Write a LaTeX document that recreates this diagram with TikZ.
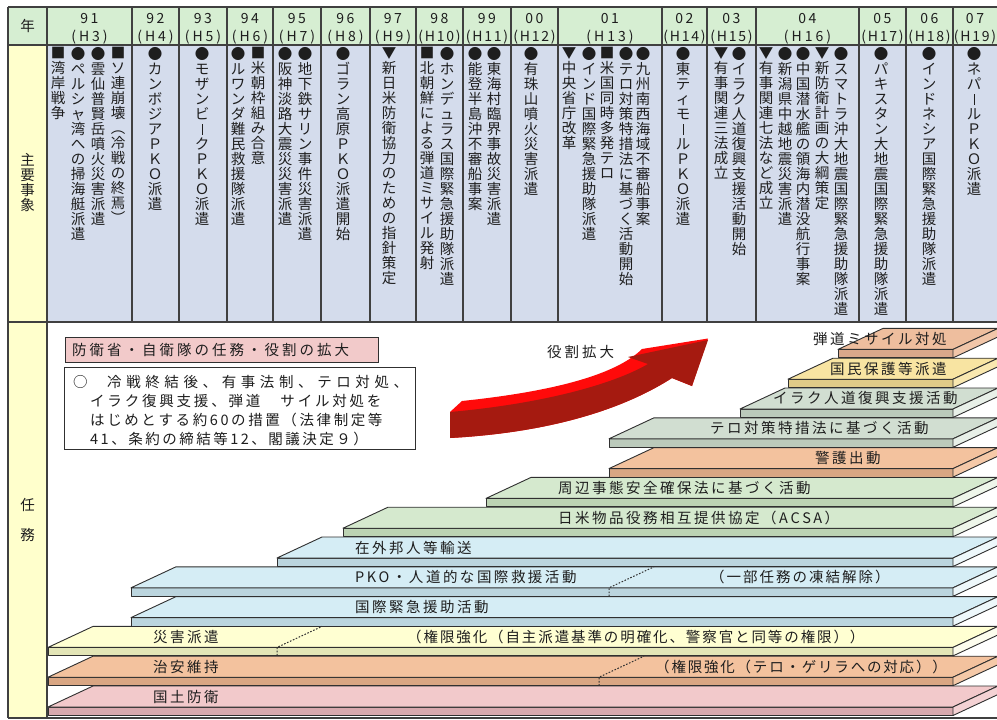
\documentclass[tikz,border=0pt]{standalone}
\usepackage{fontspec}
\setmainfont{Noto Sans CJK JP}
\makeatletter
\def\vt@end{\vt@end}
\def\vt@loop#1{\ifx#1\vt@end\else\hbox to 15pt{\hss#1\hss}\expandafter\vt@loop\fi}
\newcommand\vtxt[1]{\vtop{\baselineskip=15pt\lineskiplimit=-50pt\lineskip=0pt\vt@loop#1\vt@end}}
\newdimen\spk
\def\sp@first#1{#1\sp@loop}
\def\sp@loop#1{\ifx#1\vt@end\else\kern\spk#1\expandafter\sp@loop\fi}
\newcommand\sptxt[2][2.5pt]{\spk=#1\relax\sp@first#2\vt@end}
\makeatother
\newcommand\vbarmark{\raisebox{-0.5pt}{\rule{0.75pt}{10.5pt}}}
\definecolor{hdrg}{HTML}{D6EED2}
\definecolor{cellb}{HTML}{D4DCEC}
\definecolor{lefty}{HTML}{FFFFCC}
\definecolor{gridc}{HTML}{404040}
\definecolor{platc}{HTML}{303030}
\definecolor{txtc}{HTML}{1E1E1E}
\definecolor{pinkT}{HTML}{F2C9CB}\definecolor{pinkF}{HTML}{D8A9AE}\definecolor{pinkR}{HTML}{F4D2D4}
\definecolor{orT}{HTML}{F3C29E}\definecolor{orF}{HTML}{D9A683}\definecolor{orR}{HTML}{F5C9A8}
\definecolor{yelT}{HTML}{FFFFD2}\definecolor{yelF}{HTML}{E3E5B7}\definecolor{yelR}{HTML}{FDFDEE}
\definecolor{bluT}{HTML}{D5EDF5}\definecolor{bluF}{HTML}{BBD5DE}\definecolor{bluR}{HTML}{EEF8FB}
\definecolor{grnT}{HTML}{D5E9CE}\definecolor{grnF}{HTML}{BCD3B3}\definecolor{grnR}{HTML}{EEF6EA}
\definecolor{ggT}{HTML}{D1DED1}\definecolor{ggF}{HTML}{BBCABB}\definecolor{ggR}{HTML}{E8F0E8}
\definecolor{goldT}{HTML}{F8E4A2}\definecolor{goldF}{HTML}{E0CB88}\definecolor{goldR}{HTML}{F9E8B0}
\definecolor{salT}{HTML}{EEBE9E}\definecolor{salF}{HTML}{D9A88B}\definecolor{salR}{HTML}{F1C6A9}
\definecolor{titlepink}{HTML}{F2CACA}
\definecolor{arrdark}{HTML}{A51A10}
\definecolor{arrred}{HTML}{FF0A0A}
\newcommand\stairstep[5]{%
  \filldraw[plat, fill=#4] (#1,{#2+21}) rectangle (953,{#2+29.5});
  \filldraw[plat, fill=#3] (#1,{#2+21}) -- ({#1+45},#2) -- (998,#2) -- (953,{#2+21}) -- cycle;
  \filldraw[plat, fill=#5] (953,{#2+21}) -- (998,#2) -- (998,{#2+8.5}) -- (953,{#2+29.5}) -- cycle;
}
\begin{document}
\begin{tikzpicture}[x=1pt,y=-1pt,
  grid/.style={draw=gridc, line width=1.2pt},
  evt/.style={anchor=north, inner sep=0pt, text=txtc, font=\fontsize{14.5}{15}\selectfont},
  yr/.style={inner sep=0pt, text=txtc, font=\fontsize{14}{14}\selectfont},
  lbl/.style={inner sep=0pt, text=txtc, font=\fontsize{14.5}{15}\selectfont},
  plat/.style={draw=platc, line width=0.9pt, line join=round},
  ptxt/.style={anchor=west, inner sep=0pt, text=txtc, font=\fontsize{14.5}{15}\selectfont},
  divider/.style={draw=platc, dash pattern=on 1.6pt off 1.6pt, line width=1pt}]
\useasboundingbox (0,0) rectangle (997,720);
\clip (0,0) rectangle (997,720);
\fill[white] (0,0) rectangle (997,720);
% ---------- table backgrounds ----------
\fill[hdrg] (8,7) rectangle (1000,45);
\fill[cellb] (47,45) rectangle (1000,322);
\fill[lefty] (8,45) rectangle (47,718);
% ---------- grid ----------
\draw[grid] (8,7) -- (1000,7);
\draw[grid] (8,45) -- (1000,45);
\draw[grid] (8,322) -- (1000,322);
\draw[grid] (8,718) -- (1000,718);
\draw[grid] (8,7) -- (8,718);
\draw[grid] (47,7) -- (47,718);
\foreach \x in {132,179,227,273,321,370,416,463,511,558,662,707,756,859,906,953}
  \draw[grid] (\x,7) -- (\x,322);
% ---------- left labels ----------
\node[lbl] (nen) at (27.5,26) {年};
\node[lbl] (shuyo) at (27.5,183) {\vtxt{主要事象}};
\node[lbl] (nin) at (27.5,505) {任};
\node[lbl] (mu) at (27.5,535) {務};
% ---------- year header ----------
\node[yr] (y91) at (89.5,19) {\sptxt{91}};
\node[yr] (h91) at (89.5,37) {\sptxt[3pt]{(H3)}};
\node[yr] (y92) at (155.5,19) {\sptxt{92}};
\node[yr] (h92) at (155.5,37) {\sptxt[3pt]{(H4)}};
\node[yr] (y93) at (203,19) {\sptxt{93}};
\node[yr] (h93) at (203,37) {\sptxt[3pt]{(H5)}};
\node[yr] (y94) at (250,19) {\sptxt{94}};
\node[yr] (h94) at (250,37) {\sptxt[3pt]{(H6)}};
\node[yr] (y95) at (297,19) {\sptxt{95}};
\node[yr] (h95) at (297,37) {\sptxt[3pt]{(H7)}};
\node[yr] (y96) at (345.5,19) {\sptxt{96}};
\node[yr] (h96) at (345.5,37) {\sptxt[3pt]{(H8)}};
\node[yr] (y97) at (393,19) {\sptxt{97}};
\node[yr] (h97) at (393,37) {\sptxt[3pt]{(H9)}};
\node[yr] (y98) at (439.5,19) {\sptxt{98}};
\node[yr] (h98) at (439.5,37) {\sptxt[1.8pt]{(H10)}};
\node[yr] (y99) at (487,19) {\sptxt{99}};
\node[yr] (h99) at (487,37) {\sptxt[1.8pt]{(H11)}};
\node[yr] (y00) at (534.5,19) {\sptxt{00}};
\node[yr] (h00) at (534.5,37) {\sptxt[1.8pt]{(H12)}};
\node[yr] (y01) at (610,19) {\sptxt{01}};
\node[yr] (h01) at (610,37) {\sptxt[3pt]{(H13)}};
\node[yr] (y02) at (684.5,19) {\sptxt{02}};
\node[yr] (h02) at (684.5,37) {\sptxt[1.8pt]{(H14)}};
\node[yr] (y03) at (731.5,19) {\sptxt{03}};
\node[yr] (h03) at (731.5,37) {\sptxt[1.8pt]{(H15)}};
\node[yr] (y04) at (807.5,19) {\sptxt{04}};
\node[yr] (h04) at (807.5,37) {\sptxt[3pt]{(H16)}};
\node[yr] (y05) at (882.5,19) {\sptxt{05}};
\node[yr] (h05) at (882.5,37) {\sptxt[1.8pt]{(H17)}};
\node[yr] (y06) at (929.5,19) {\sptxt{06}};
\node[yr] (h06) at (929.5,37) {\sptxt[1.8pt]{(H18)}};
\node[yr] (y07) at (975,19) {\sptxt{07}};
\node[yr] (h07) at (975,37) {\sptxt[1.8pt]{(H19)}};
% ---------- events (vertical text) ----------
\node[evt] (ev01) at (58,47) {\vtxt{■湾岸戦争}};
\node[evt] (ev02) at (78,47) {\vtxt{●ペルシャ湾への掃海艇派遣}};
\node[evt] (ev03) at (98,47) {\vtxt{●雲仙普賢岳噴火災害派遣}};
\node[evt] (ev04) at (118,47) {\vtxt{■ソ連崩壊︵冷戦の終焉︶}};
\node[evt] (ev05) at (155,47) {\vtxt{●カンボジアＰＫＯ派遣}};
\node[evt] (ev06) at (202,47) {\vtxt{●モザンビ\vbarmark クＰＫＯ派遣}};
\node[evt] (ev07) at (238,47) {\vtxt{●ルワンダ難民救援隊派遣}};
\node[evt] (ev08) at (258,47) {\vtxt{■米朝枠組み合意}};
\node[evt] (ev09) at (285,47) {\vtxt{●阪神淡路大震災災害派遣}};
\node[evt] (ev10) at (305,47) {\vtxt{●地下鉄サリン事件災害派遣}};
\node[evt] (ev11) at (343,47) {\vtxt{●ゴラン高原ＰＫＯ派遣開始}};
\node[evt] (ev12) at (389,47) {\vtxt{▼新日米防衛協力のための指針策定}};
\node[evt] (ev13) at (427,47) {\vtxt{■北朝鮮による弾道ミサイル発射}};
\node[evt] (ev14) at (447,47) {\vtxt{●ホンデュラス国際緊急援助隊派遣}};
\node[evt] (ev15) at (475,47) {\vtxt{●能登半島沖不審船事案}};
\node[evt] (ev16) at (494,47) {\vtxt{●東海村臨界事故災害派遣}};
\node[evt] (ev17) at (531,47) {\vtxt{●有珠山噴火災害派遣}};
\node[evt] (ev18) at (569,47) {\vtxt{▼中央省庁改革}};
\node[evt] (ev19) at (589,47) {\vtxt{●インド国際緊急援助隊派遣}};
\node[evt] (ev20) at (607,47) {\vtxt{■米国同時多発テロ}};
\node[evt] (ev21) at (626,47) {\vtxt{●テロ対策特措法に基づく活動開始}};
\node[evt] (ev22) at (643,47) {\vtxt{●九州南西海域不審船事案}};
\node[evt] (ev23) at (683,47) {\vtxt{●東ティモ\vbarmark ルＰＫＯ派遣}};
\node[evt] (ev24) at (721,47) {\vtxt{▼有事関連三法成立}};
\node[evt] (ev25) at (739,47) {\vtxt{●イラク人道復興支援活動開始}};
\node[evt] (ev26) at (766,47) {\vtxt{▼有事関連七法など成立}};
\node[evt] (ev27) at (785,47) {\vtxt{●新潟県中越地震災害派遣}};
\node[evt] (ev28) at (803,47) {\vtxt{●中国潜水艦の領海内潜没航行事案}};
\node[evt] (ev29) at (822,47) {\vtxt{▼新防衛計画の大綱策定}};
\node[evt] (ev30) at (841,47) {\vtxt{●スマトラ沖大地震国際緊急援助隊派遣}};
\node[evt] (ev31) at (881,47) {\vtxt{●パキスタン大地震国際緊急援助隊派遣}};
\node[evt] (ev32) at (929,47) {\vtxt{●インドネシア国際緊急援助隊派遣}};
\node[evt] (ev33) at (974,47) {\vtxt{●ネパ\vbarmark ルＰＫＯ派遣}};
% ---------- note boxes ----------
\node[draw=platc, fill=titlepink, line width=0.9pt, anchor=north west, inner sep=0pt,
      minimum width=313pt, minimum height=25pt] (titlebox) at (65,337) {};
\node[ptxt] (titletext) at (72,350) {\sptxt[3pt]{防衛省・自衛隊の任務・役割の拡大}};
\node[draw=platc, fill=white, line width=0.9pt, anchor=north west, inner sep=0pt,
      minimum width=351pt, minimum height=82pt] (notebox) at (64,367) {};
\node[ptxt] (note0) at (73,382) {○};
\node[ptxt] (note1) at (107,382) {\sptxt[4.6pt]{冷戦終結後、有事法制、テロ対処、}};
\node[ptxt] (note2) at (90,401) {\sptxt[2.8pt]{イラク復興支援、弾道　サイル対処を}};
\node[ptxt] (note3) at (90,420) {\sptxt[2.6pt]{はじめとする約60の措置（法律制定等}};
\node[ptxt] (note4) at (90,438.5) {\sptxt[2.5pt]{41、条約の締結等12、閣議決定９）}};
% ---------- arrow ----------
\fill[arrred] (450,412) -- (462,401) .. controls (548,392) and (615,376) .. (642,349)
   -- (708,338.5) -- (692,386) -- (672,378) .. controls (630,405) and (560,432) .. (450,438) -- cycle;
\fill[arrdark] (450,412) .. controls (540,404) and (612,385) .. (648,364) -- (628,357)
   -- (708,340) -- (692,386) -- (672,378) .. controls (630,405) and (560,432) .. (450,438) -- cycle;
\node[ptxt] (arrlabel) at (547,352) {\sptxt[3pt]{役割拡大}};
% ---------- stair platforms ----------
\stairstep{48}{686}{pinkT}{pinkF}{pinkR}
\stairstep{48}{656.2}{orT}{orF}{orR}
\stairstep{48}{626.4}{yelT}{yelF}{yelR}
\stairstep{131}{596.6}{bluT}{bluF}{bluR}
\stairstep{131}{566.8}{bluT}{bluF}{bluR}
\stairstep{277}{537}{bluT}{bluF}{bluR}
\stairstep{343}{507.2}{grnT}{grnF}{grnR}
\stairstep{486}{477.4}{grnT}{grnF}{grnR}
\stairstep{609}{447.6}{orT}{orF}{orR}
\stairstep{609}{417.8}{ggT}{ggF}{ggR}
\stairstep{740}{388}{ggT}{ggF}{ggR}
\stairstep{788}{358.2}{goldT}{goldF}{goldR}
\stairstep{838}{328.4}{salT}{salF}{salR}
% dividers
\draw[divider] (277,655.5) -- (277,647.4) -- (322,626.4);
\draw[divider] (609,596.3) -- (609,587.8) -- (654,566.8);
\draw[divider] (599,685.7) -- (599,677.2) -- (644,656.2);
% platform texts
\node[ptxt] (p00) at (153,696.5) {\sptxt{国土防衛}};
\node[ptxt] (p01) at (153,666.7) {\sptxt{治安維持}};
\node[ptxt] (p01b) at (655,666.7) {\sptxt[1.8pt]{（権限強化（テロ・ゲリラへの対応））}};
\node[ptxt] (p02) at (153,637) {\sptxt{災害派遣}};
\node[ptxt] (p02b) at (407,637) {\sptxt[1.9pt]{（権限強化（自主派遣基準の明確化、警察官と同等の権限））}};
\node[ptxt] (p03) at (355,607) {\sptxt{国際緊急援助活動}};
\node[ptxt] (p04) at (355,577.3) {\sptxt{PKO・人道的な国際救援活動}};
\node[ptxt] (p04b) at (710,577.3) {\sptxt[2pt]{（一部任務の凍結解除）}};
\node[ptxt] (p05) at (355,547.5) {\sptxt{在外邦人等輸送}};
\node[ptxt] (p06) at (558,517.7) {\sptxt{日米物品役務相互提供協定（ACSA）}};
\node[ptxt] (p07) at (558,488) {\sptxt{周辺事態安全確保法に基づく活動}};
\node[ptxt] (p08) at (815,458) {\sptxt{警護出動}};
\node[ptxt] (p09) at (710,428.3) {\sptxt{テロ対策特措法に基づく活動}};
\node[ptxt] (p10) at (773,398.5) {\sptxt{イラク人道復興支援活動}};
\node[ptxt] (p11) at (830,368.7) {\sptxt{国民保護等派遣}};
\node[ptxt] (p12) at (813,339) {\sptxt{弾道ミサイル対処}};
\end{tikzpicture}
\end{document}
